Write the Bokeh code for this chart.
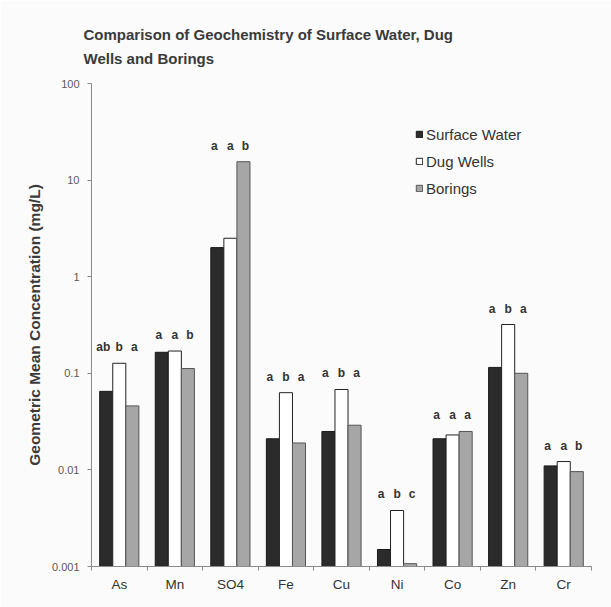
import numpy as np
from bokeh.plotting import figure
from bokeh.models import (FixedTicker, CustomJSTickFormatter, Legend, LegendItem,
                          ColumnDataSource, Range1d)
from bokeh.core.properties import value
from bokeh.embed import file_html
from bokeh.resources import INLINE

# ---------------- data ----------------
categories = ["As", "Mn", "SO4", "Fe", "Cu", "Ni", "Co", "Zn", "Cr"]
surface_water = [0.065, 0.165, 2.0, 0.021, 0.025, 0.0015, 0.021, 0.115, 0.011]
dug_wells = [0.127, 0.17, 2.5, 0.063, 0.068, 0.0038, 0.023, 0.32, 0.0122]
borings = [0.046, 0.112, 15.5, 0.019, 0.029, 0.00107, 0.025, 0.10, 0.0096]
letters_sw = ["ab", "a", "a", "a", "a", "a", "a", "a", "a"]
letters_dw = ["b", "a", "a", "b", "b", "b", "a", "b", "a"]
letters_b = ["a", "b", "b", "a", "a", "c", "a", "a", "b"]
series_names = ["Surface Water", "Dug Wells", "Borings"]
y_ticks = [0.001, 0.01, 0.1, 1, 10, 100]
title_text = "Comparison of Geochemistry of Surface Water, Dug\nWells and Borings"
y_label = "Geometric Mean Concentration (mg/L)"

FONT = "Liberation Sans"
bar_w = 0.235
centers = np.arange(len(categories)) + 0.5
group_max = np.maximum(np.maximum(surface_water, dug_wells), borings)

p = figure(width=611, height=607, y_axis_type="log", output_backend="svg",
           toolbar_location=None, x_range=Range1d(0, len(categories)),
           y_range=Range1d(y_ticks[0], y_ticks[-1]),
           min_border_left=91, min_border_right=20, min_border_top=83,
           min_border_bottom=41)
p.background_fill_color = "#fbfbfb"
p.border_fill_color = "#fbfbfb"
p.outline_line_color = None
p.xgrid.visible = False
p.ygrid.visible = False

p.title.text = title_text
p.title.text_font = FONT
p.title.text_font_size = "15px"
p.title.text_font_style = "bold"
p.title.text_color = "#3a3a3a"
p.title.text_line_height = 1.4
p.title.align = "left"
p.title.offset = -8
p.title.standoff = 33

styles = [
    dict(fill_color="#2b2b2b", line_color="#1a1a1a"),
    dict(fill_color="#ffffff", line_color="#222222"),
    dict(fill_color="#a6a6a6", line_color="#555555"),
]
offsets = [-bar_w, 0.0, bar_w]
letter_shift = [-3, 0, 2]
series = [surface_water, dug_wells, borings]
letters = [letters_sw, letters_dw, letters_b]
items = []
for name, vals, off, st, let, sh in zip(series_names, series, offsets, styles, letters, letter_shift):
    src = ColumnDataSource(dict(x=centers + off, top=vals, bottom=[y_ticks[0]] * len(vals),
                                ly=group_max, lab=let))
    r = p.vbar(x="x", top="top", bottom="bottom", width=bar_w, source=src,
               line_width=1, **st)
    p.text(x="x", y="ly", text="lab", source=src, text_align="center",
           text_baseline="middle", y_offset=-16, x_offset=sh, text_font=value(FONT),
           text_font_size="12px", text_font_style="bold", text_color="#333333")
    items.append(LegendItem(label=name, renderers=[r]))

legend = Legend(items=items, location=(324, 368), padding=0, margin=0,
                glyph_width=8, glyph_height=8, label_height=20, spacing=7,
                label_standoff=3, label_text_font=FONT, label_text_font_size="15px",
                label_text_color="#333333", background_fill_alpha=0,
                border_line_color=None)
p.add_layout(legend)

# x axis
xa = p.xaxis[0]
xa.ticker = FixedTicker(ticks=list(centers), minor_ticks=list(range(len(categories) + 1)))
xa.formatter = CustomJSTickFormatter(args=dict(cats=categories),
                                     code="return cats[Math.floor(tick)];")
xa.major_tick_out = 0
xa.major_tick_in = 0
xa.minor_tick_out = 4
xa.minor_tick_in = 0
xa.axis_line_color = "#8a8a8a"
xa.minor_tick_line_color = "#8a8a8a"
xa.major_label_text_font = FONT
xa.major_label_text_font_size = "13.5px"
xa.major_label_text_color = "#333333"
xa.major_label_standoff = 6

# y axis
ya = p.yaxis[0]
ya.ticker = FixedTicker(ticks=y_ticks, minor_ticks=[])
ya.formatter = CustomJSTickFormatter(
    code="return tick >= 1 ? tick.toFixed(0) : tick.toPrecision(1);")
ya.major_tick_out = 4
ya.major_tick_in = 0
ya.axis_line_color = "#8a8a8a"
ya.major_tick_line_color = "#8a8a8a"
ya.major_label_text_font = FONT
ya.major_label_text_font_size = "11px"
ya.major_label_text_color = "#595959"
ya.major_label_standoff = 8
ya.axis_label = y_label
ya.axis_label_text_font = FONT
ya.axis_label_text_font_size = "15.5px"
ya.axis_label_text_font_style = "bold"
ya.axis_label_text_color = "#3a3a3a"
ya.axis_label_standoff = 6

open("out.html", "w").write(file_html(p, INLINE))
